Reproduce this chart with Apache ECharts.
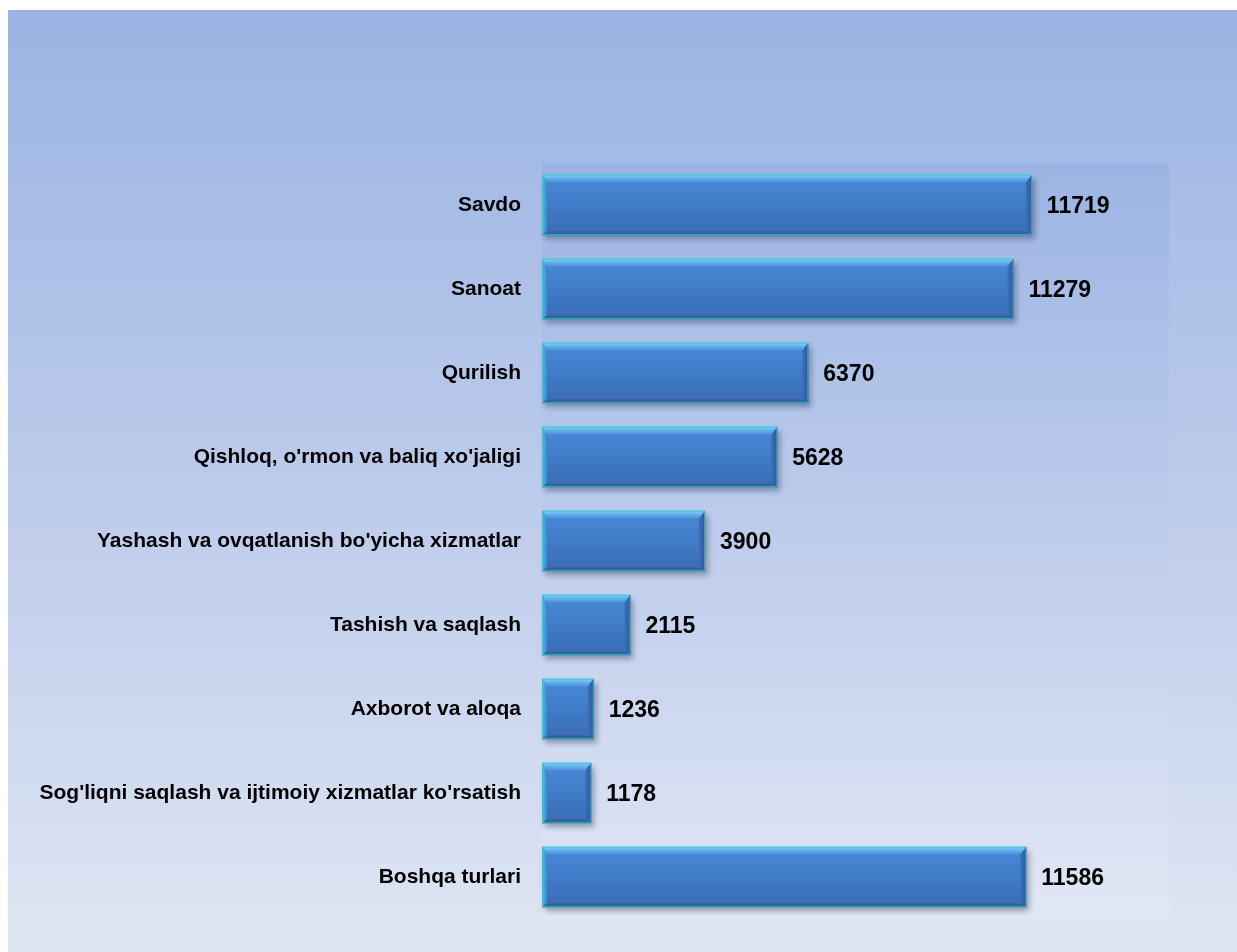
<!DOCTYPE html>
<html>
<head>
<meta charset="utf-8">
<script src="https://cdn.jsdelivr.net/npm/echarts@6/dist/echarts.min.js"></script>
<style>
html,body{margin:0;padding:0;background:#ffffff;}
#chart{position:absolute;left:8px;top:10px;width:1229px;height:942px;}
</style>
</head>
<body>
<div id="chart"></div>
<script>
const categories = [
  "Savdo",
  "Sanoat",
  "Qurilish",
  "Qishloq, o'rmon va baliq xo'jaligi",
  "Yashash va ovqatlanish bo'yicha xizmatlar",
  "Tashish va saqlash",
  "Axborot va aloqa",
  "Sog'liqni saqlash va ijtimoiy xizmatlar ko'rsatish",
  "Boshqa turlari"
];
const values = [11719, 11279, 6370, 5628, 3900, 2115, 1236, 1178, 11586];

const FONT = 'Liberation Sans, Arial, sans-serif';

function renderBar(params, api) {
  const idx = api.value(0);
  const val = api.value(1);
  const p0 = api.coord([0, idx]);
  const p1 = api.coord([val, idx]);
  const band = api.size([0, 1])[1];
  const h = band * 0.72;
  const x0 = p0[0], x1 = p1[0];
  const y0 = p0[1] - h / 2, y1 = p0[1] + h / 2;
  const w = x1 - x0;
  const bt = 8, bl = 5, br = 6, bb = 4;
  const lg = (stops, vertical) => ({
    type: 'linear', x: 0, y: 0, x2: vertical ? 0 : 1, y2: vertical ? 1 : 0,
    colorStops: stops
  });
  return {
    type: 'group',
    children: [
      // main face with soft drop shadow
      {
        type: 'rect',
        shape: {x: x0, y: y0, width: w, height: h},
        style: {
          fill: lg([
            {offset: 0, color: '#4a8ad8'},
            {offset: 0.5, color: '#3f7cc8'},
            {offset: 1, color: '#3a6cb2'}
          ], true),
          shadowBlur: 6,
          shadowOffsetX: 3,
          shadowOffsetY: 4,
          shadowColor: 'rgba(30,40,60,0.4)'
        },
        z2: 2
      },
      // top bevel
      {
        type: 'polygon',
        shape: {points: [[x0, y0], [x1, y0], [x1 - br, y0 + bt], [x0 + bl, y0 + bt]]},
        style: {fill: lg([
          {offset: 0, color: '#5eeaf6'},
          {offset: 0.2, color: '#70c6f2'},
          {offset: 1, color: '#4a8ad8'}
        ], true)},
        z2: 3
      },
      // left bevel
      {
        type: 'polygon',
        shape: {points: [[x0, y0], [x0 + bl, y0 + bt], [x0 + bl, y1 - bb], [x0, y1]]},
        style: {fill: lg([
          {offset: 0, color: '#3ec8de'},
          {offset: 1, color: '#4384cc'}
        ], false)},
        z2: 3
      },
      // right bevel
      {
        type: 'polygon',
        shape: {points: [[x1, y0], [x1, y1], [x1 - br, y1 - bb], [x1 - br, y0 + bt]]},
        style: {fill: lg([
          {offset: 0, color: '#3a70ba'},
          {offset: 1, color: '#2e5a98'}
        ], false)},
        z2: 3
      },
      // bottom bevel
      {
        type: 'polygon',
        shape: {points: [[x0, y1], [x1, y1], [x1 - br, y1 - bb], [x0 + bl, y1 - bb]]},
        style: {fill: lg([
          {offset: 0, color: '#3a62a0'},
          {offset: 0.6, color: '#34639c'},
          {offset: 1, color: '#2ea0b4'}
        ], true)},
        z2: 3
      },
      // edge outline
      {
        type: 'rect',
        shape: {x: x0 + 0.5, y: y0 + 0.5, width: w - 1, height: h - 1},
        style: {fill: null, stroke: '#36c0d2', lineWidth: 1, opacity: 0.7},
        z2: 4
      },
      // value label
      {
        type: 'text',
        x: x1 + 15,
        y: p0[1] + 2,
        style: {
          text: String(val),
          fill: '#000000',
          font: 'bold 23px ' + FONT,
          align: 'left',
          verticalAlign: 'middle'
        },
        z2: 5
      }
    ]
  };
}

const chart = echarts.init(document.getElementById('chart'), null, {renderer: 'canvas'});
const option = {
  animation: false,
  backgroundColor: {
    type: 'linear', x: 0, y: 0, x2: 0, y2: 1,
    colorStops: [
      {offset: 0, color: '#9ab4e3'},
      {offset: 0.5, color: '#bccbeb'},
      {offset: 1, color: '#dfe6f3'}
    ]
  },
  grid: {
    left: 534, top: 153, right: 68, bottom: 33,
    show: true,
    borderWidth: 0,
    backgroundColor: {
      type: 'linear', x: 0, y: 0, x2: 0, y2: 1,
      colorStops: [
        {offset: 0, color: 'rgba(150,176,226,0.6)'},
        {offset: 1, color: 'rgba(228,233,246,0.6)'}
      ]
    }
  },
  xAxis: {
    type: 'value', min: 0, max: 15000,
    show: false,
    splitLine: {show: false}
  },
  yAxis: {
    type: 'category',
    data: categories,
    inverse: true,
    axisLine: {show: false},
    axisTick: {show: false},
    axisLabel: {
      color: '#000000',
      fontFamily: FONT,
      fontWeight: 'bold',
      fontSize: 21,
      margin: 21,
      padding: [4, 0, 0, 0]
    }
  },
  series: [{
    type: 'custom',
    renderItem: renderBar,
    encode: {x: 1, y: 0},
    data: values.map((v, i) => [i, v])
  }]
};
chart.setOption(option);
</script>
</body>
</html>
